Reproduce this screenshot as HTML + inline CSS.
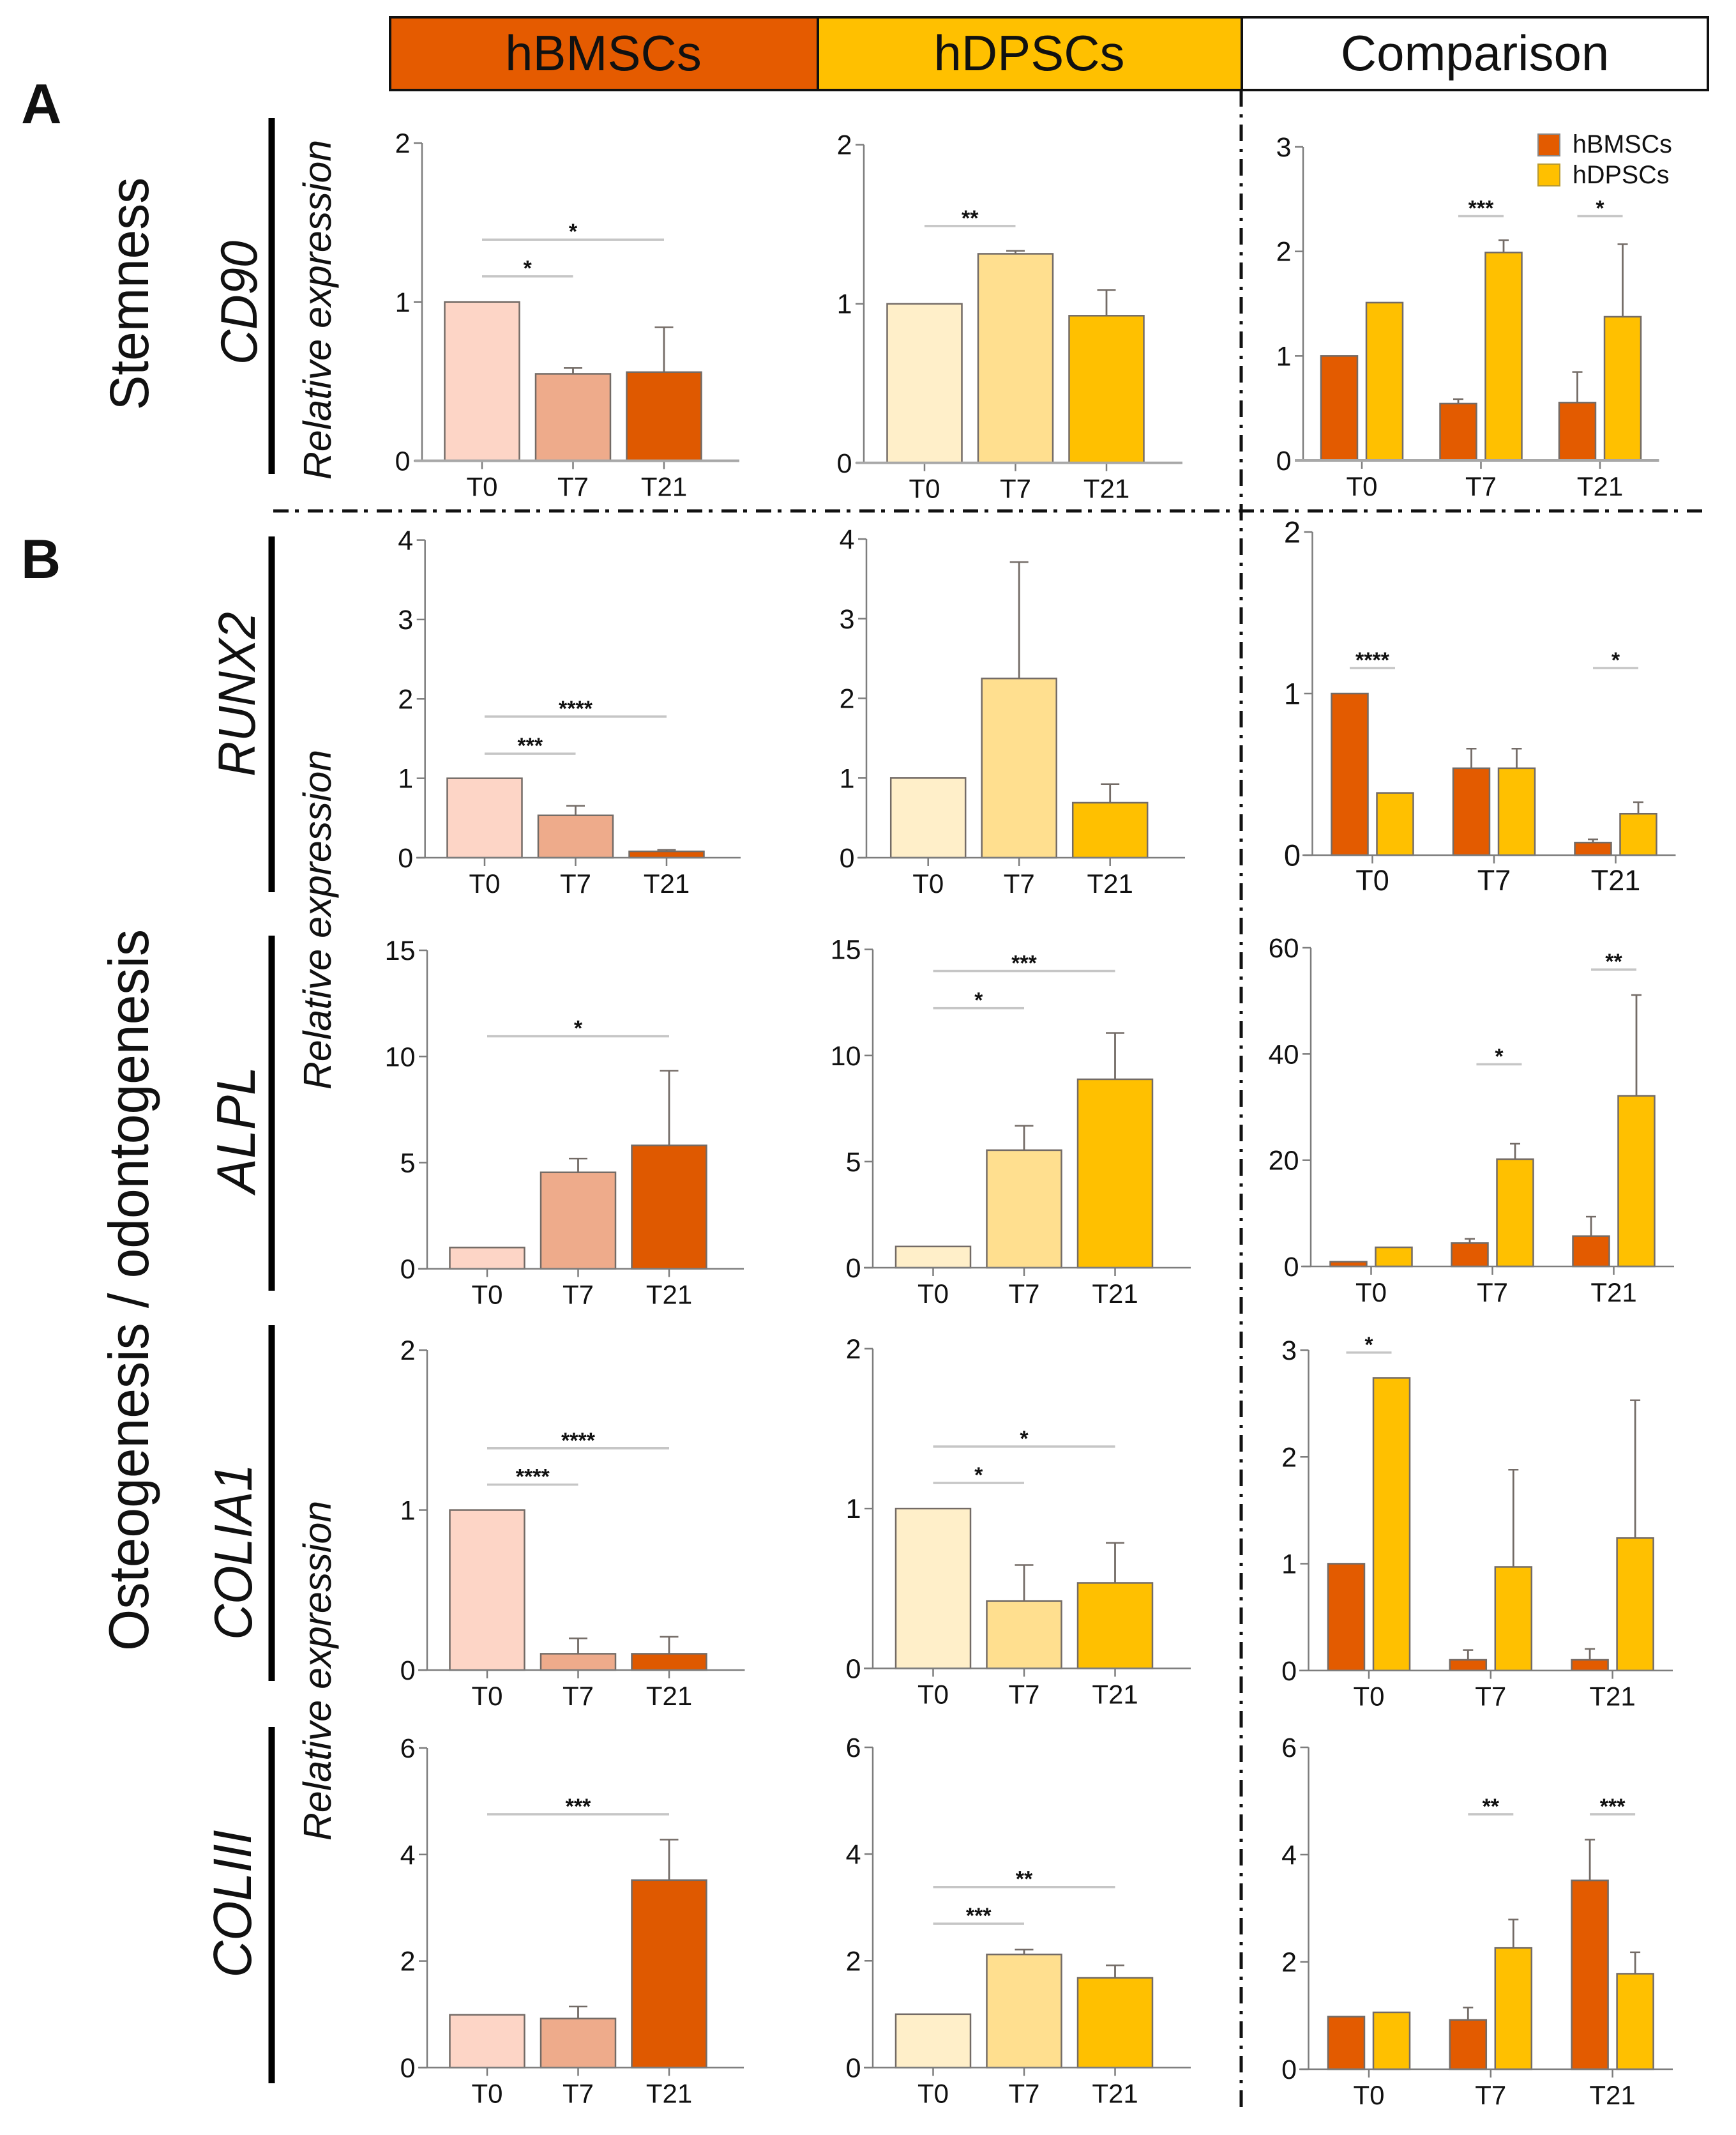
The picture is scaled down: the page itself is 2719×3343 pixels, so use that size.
<!DOCTYPE html>
<html lang="en">
<head>
<meta charset="utf-8">
<title>Gene expression comparison of hBMSCs and hDPSCs</title>
<style>
html,body{margin:0;padding:0;background:#fff}
svg{display:block}
text{font-family:"Liberation Sans",sans-serif;fill:#111}
</style>
</head>
<body>
<svg id="figure" xmlns="http://www.w3.org/2000/svg" width="2719" height="3343" viewBox="0 0 2719 3343">
  <rect x="0" y="0" width="2719" height="3343" fill="#fff"/>
  <g>
    <rect x="611" y="27" width="670" height="114" fill="#E55B00" stroke="#111" stroke-width="4"/>
    <rect x="1281" y="27" width="664" height="114" fill="#FFC000" stroke="#111" stroke-width="4"/>
    <rect x="1945" y="27" width="730" height="114" fill="#fff" stroke="#111" stroke-width="4"/>
    <text x="945" y="110" font-size="78" text-anchor="middle">hBMSCs</text>
    <text x="1612" y="110" font-size="78" text-anchor="middle">hDPSCs</text>
    <text x="2310" y="110" font-size="78" text-anchor="middle">Comparison</text>
  </g>
  <text x="33" y="193" font-size="88" font-weight="bold">A</text>
  <text x="33" y="905" font-size="86" font-weight="bold">B</text>
  <text transform="translate(232 460) rotate(-90) scale(1 1.05)" font-size="82" text-anchor="middle">Stemness</text>
  <text transform="translate(232 2020) rotate(-90) scale(1 1.05)" font-size="84" text-anchor="middle">Osteogenesis / odontogenesis</text>
  <g stroke="#000" stroke-width="10">
    <line x1="425.5" y1="185" x2="425.5" y2="742"/>
    <line x1="425.5" y1="840" x2="425.5" y2="1397"/>
    <line x1="425.5" y1="1465" x2="425.5" y2="2021"/>
    <line x1="425.5" y1="2075" x2="425.5" y2="2632"/>
    <line x1="425.5" y1="2704" x2="425.5" y2="3262"/>
  </g>
  <g font-style="italic">
    <text transform="translate(402 474) rotate(-90) scale(1 1.06)" font-size="76" text-anchor="middle" font-style="italic">CD90</text>
    <text transform="translate(399 1087) rotate(-90) scale(1 1.08)" font-size="76" text-anchor="middle" font-style="italic">RUNX2</text>
    <text transform="translate(399 1769) rotate(-90) scale(1 1.05)" font-size="81" text-anchor="middle" font-style="italic">ALPL</text>
    <text transform="translate(394 2430) rotate(-90) scale(1 1.08)" font-size="77.5" text-anchor="middle" font-style="italic">COLIA1</text>
    <text transform="translate(393 2981) rotate(-90) scale(1 1.06)" font-size="80" text-anchor="middle" font-style="italic">COLIII</text>
    <text transform="translate(518 485) rotate(-90)" font-size="61" text-anchor="middle" font-style="italic">Relative expression</text>
    <text transform="translate(518 1440) rotate(-90)" font-size="61" text-anchor="middle" font-style="italic">Relative expression</text>
    <text transform="translate(518 2616) rotate(-90)" font-size="61" text-anchor="middle" font-style="italic">Relative expression</text>
  </g>
  <g id="charts"></g>
  <g stroke="#111" stroke-width="5" fill="none">
    <line x1="428" y1="800" x2="2672" y2="800" stroke-dasharray="24 10 6 14"/>
    <line x1="1944" y1="141" x2="1944" y2="3299" stroke-dasharray="26 12 5 11"/>
  </g>
  <g>
    <rect x="2409" y="210" width="34" height="34" fill="#E35B00" stroke="#888" stroke-width="2"/>
    <text x="2463" y="239" font-size="39.5">hBMSCs</text>
    <rect x="2409" y="257" width="34" height="34" fill="#FFC000" stroke="#b89a30" stroke-width="2"/>
    <text x="2463" y="287" font-size="39.5">hDPSCs</text>
  </g>
</svg>
<script>
const categories = ['T0', 'T7', 'T21'];

const cd90Ticks = [0, 1, 2];
const cd90CompareTicks = [0, 1, 2, 3];
const cd90BmValues = [1, 0.547, 0.558];
const cd90BmErrors = [0, 0.037, 0.282];
const cd90DpValues = [1, 1.314, 0.925];
const cd90DpErrors = [0, 0.019, 0.161];
const cd90CmpBmValues = [1, 0.544, 0.554];
const cd90CmpBmErrors = [0, 0.043, 0.292];
const cd90CmpDpValues = [1.51, 1.99, 1.375];
const cd90CmpDpErrors = [0, 0.118, 0.694];
const cd90BmSig = [{ from: 0, to: 2, level: 1.392, label: '*' }, { from: 0, to: 1, level: 1.161, label: '*' }];
const cd90DpSig = [{ from: 0, to: 1, level: 1.489, label: '**' }];
const cd90CmpSig = [{ group: 1, level: 2.337, label: '***' }, { group: 2, level: 2.337, label: '*' }];

const runx2Ticks = [0, 1, 2, 3, 4];
const runx2CompareTicks = [0, 1, 2];
const runx2BmValues = [1, 0.533, 0.08];
const runx2BmErrors = [0, 0.12, 0.02];
const runx2DpValues = [1, 2.25, 0.69];
const runx2DpErrors = [0, 1.46, 0.234];
const runx2CmpBmValues = [1, 0.538, 0.078];
const runx2CmpBmErrors = [0, 0.121, 0.02];
const runx2CmpDpValues = [0.385, 0.538, 0.256];
const runx2CmpDpErrors = [0, 0.121, 0.072];
const runx2BmSig = [{ from: 0, to: 2, level: 1.777, label: '****' }, { from: 0, to: 1, level: 1.31, label: '***' }];
const runx2DpSig = [];
const runx2CmpSig = [{ group: 0, level: 1.158, label: '****' }, { group: 2, level: 1.158, label: '*' }];

const alplTicks = [0, 5, 10, 15];
const alplCompareTicks = [0, 20, 40, 60];
const alplBmValues = [1, 4.54, 5.81];
const alplBmErrors = [0, 0.65, 3.52];
const alplDpValues = [1, 5.54, 8.88];
const alplDpErrors = [0, 1.15, 2.18];
const alplCmpBmValues = [0.9, 4.4, 5.7];
const alplCmpBmErrors = [0, 0.8, 3.67];
const alplCmpDpValues = [3.6, 20.2, 32.1];
const alplCmpDpErrors = [0, 2.9, 19];
const alplBmSig = [{ from: 0, to: 2, level: 10.95, label: '*' }];
const alplDpSig = [{ from: 0, to: 2, level: 13.98, label: '***' }, { from: 0, to: 1, level: 12.23, label: '*' }];
const alplCmpSig = [{ group: 1.055, level: 38.05, label: '*' }, { group: 2, level: 55.9, label: '**' }];

const colia1Ticks = [0, 1, 2];
const colia1CompareTicks = [0, 1, 2, 3];
const colia1BmValues = [1, 0.102, 0.102];
const colia1BmErrors = [0, 0.096, 0.106];
const colia1DpValues = [1, 0.422, 0.535];
const colia1DpErrors = [0, 0.225, 0.25];
const colia1CmpBmValues = [1, 0.1, 0.1];
const colia1CmpBmErrors = [0, 0.092, 0.102];
const colia1CmpDpValues = [2.74, 0.97, 1.24];
const colia1CmpDpErrors = [0, 0.91, 1.29];
const colia1BmSig = [{ from: 0, to: 2, level: 1.386, label: '****' }, { from: 0, to: 1, level: 1.159, label: '****' }];
const colia1DpSig = [{ from: 0, to: 2, level: 1.388, label: '*' }, { from: 0, to: 1, level: 1.16, label: '*' }];
const colia1CmpSig = [{ group: 0, level: 2.977, label: '*' }];

const coliiiTicks = [0, 2, 4, 6];
const coliiiBmValues = [0.99, 0.92, 3.52];
const coliiiBmErrors = [0, 0.226, 0.76];
const coliiiDpValues = [1, 2.12, 1.68];
const coliiiDpErrors = [0, 0.09, 0.235];
const coliiiCmpBmValues = [0.98, 0.92, 3.52];
const coliiiCmpBmErrors = [0, 0.23, 0.76];
const coliiiCmpDpValues = [1.06, 2.26, 1.78];
const coliiiCmpDpErrors = [0, 0.53, 0.4];
const coliiiBmSig = [{ from: 0, to: 2, level: 4.755, label: '***' }];
const coliiiDpSig = [{ from: 0, to: 2, level: 3.383, label: '**' }, { from: 0, to: 1, level: 2.696, label: '***' }];
const coliiiCmpSig = [{ group: 1, level: 4.752, label: '**' }, { group: 2, level: 4.752, label: '***' }];

const bmShades = ['#FDD5C6', '#EEAB8B', '#DF5900'];
const dpShades = ['#FFEFC9', '#FFDF8F', '#FFC000'];
const compareFills = ['#E35B00', '#FFC000'];

const singlePanels = [
  { key: 'cd90-hbmscs', axisX: 661, yTop: 224, yBase: 721.5, xStart: 649, xEnd: 1158, firstCenter: 755, ticks: cd90Ticks, values: cd90BmValues, errors: cd90BmErrors, sig: cd90BmSig, shades: bmShades, heavy: true },
  { key: 'cd90-hdpscs', axisX: 1353, yTop: 226.6, yBase: 724.7, xStart: 1341, xEnd: 1852, firstCenter: 1448, ticks: cd90Ticks, values: cd90DpValues, errors: cd90DpErrors, sig: cd90DpSig, shades: dpShades, heavy: true },
  { key: 'runx2-hbmscs', axisX: 665.7, yTop: 845.6, yBase: 1343, xStart: 652, xEnd: 1160, firstCenter: 759, ticks: runx2Ticks, values: runx2BmValues, errors: runx2BmErrors, sig: runx2BmSig, shades: bmShades },
  { key: 'runx2-hdpscs', axisX: 1357, yTop: 844, yBase: 1343, xStart: 1343, xEnd: 1856, firstCenter: 1453.7, ticks: runx2Ticks, values: runx2DpValues, errors: runx2DpErrors, sig: runx2DpSig, shades: dpShades },
  { key: 'alpl-hbmscs', axisX: 669, yTop: 1488, yBase: 1986.6, xStart: 655, xEnd: 1165, firstCenter: 763, ticks: alplTicks, values: alplBmValues, errors: alplBmErrors, sig: alplBmSig, shades: bmShades },
  { key: 'alpl-hdpscs', axisX: 1367, yTop: 1486.6, yBase: 1985, xStart: 1353, xEnd: 1865, firstCenter: 1461.5, ticks: alplTicks, values: alplDpValues, errors: alplDpErrors, sig: alplDpSig, shades: dpShades },
  { key: 'colia1-hbmscs', axisX: 669, yTop: 2114, yBase: 2615, xStart: 655, xEnd: 1166.5, firstCenter: 763, ticks: colia1Ticks, values: colia1BmValues, errors: colia1BmErrors, sig: colia1BmSig, shades: bmShades },
  { key: 'colia1-hdpscs', axisX: 1367, yTop: 2111.8, yBase: 2612.4, xStart: 1353, xEnd: 1865, firstCenter: 1461.5, ticks: colia1Ticks, values: colia1DpValues, errors: colia1DpErrors, sig: colia1DpSig, shades: dpShades },
  { key: 'coliii-hbmscs', axisX: 669, yTop: 2737, yBase: 3237.4, xStart: 655, xEnd: 1165, firstCenter: 763, ticks: coliiiTicks, values: coliiiBmValues, errors: coliiiBmErrors, sig: coliiiBmSig, shades: bmShades },
  { key: 'coliii-hdpscs', axisX: 1367, yTop: 2736, yBase: 3237.4, xStart: 1353, xEnd: 1865, firstCenter: 1461.5, ticks: coliiiTicks, values: coliiiDpValues, errors: coliiiDpErrors, sig: coliiiDpSig, shades: dpShades }
];

const comparePanels = [
  { key: 'cd90-comparison', axisX: 2041, yTop: 230, yBase: 721, xStart: 2028, xEnd: 2598.5, firstCenter: 2133, step: 186.5, ticks: cd90CompareTicks, bm: cd90CmpBmValues, bmErr: cd90CmpBmErrors, dp: cd90CmpDpValues, dpErr: cd90CmpDpErrors, sig: cd90CmpSig, heavy: true },
  { key: 'runx2-comparison', axisX: 2055.5, yTop: 833, yBase: 1339, xStart: 2040, xEnd: 2624.5, firstCenter: 2149.5, step: 190.5, ticks: runx2CompareTicks, bm: runx2CmpBmValues, bmErr: runx2CmpBmErrors, dp: runx2CmpDpValues, dpErr: runx2CmpDpErrors, sig: runx2CmpSig, yFont: 47, xFont: 45 },
  { key: 'alpl-comparison', axisX: 2053, yTop: 1484, yBase: 1983, xStart: 2038, xEnd: 2622, firstCenter: 2147.5, step: 190, ticks: alplCompareTicks, bm: alplCmpBmValues, bmErr: alplCmpBmErrors, dp: alplCmpDpValues, dpErr: alplCmpDpErrors, sig: alplCmpSig },
  { key: 'colia1-comparison', axisX: 2049.5, yTop: 2114, yBase: 2615.7, xStart: 2035, xEnd: 2620, firstCenter: 2144, step: 190.8, ticks: colia1CompareTicks, bm: colia1CmpBmValues, bmErr: colia1CmpBmErrors, dp: colia1CmpDpValues, dpErr: colia1CmpDpErrors, sig: colia1CmpSig },
  { key: 'coliii-comparison', axisX: 2049.5, yTop: 2736, yBase: 3240, xStart: 2035, xEnd: 2620, firstCenter: 2144, step: 190.8, ticks: coliiiTicks, bm: coliiiCmpBmValues, bmErr: coliiiCmpBmErrors, dp: coliiiCmpDpValues, dpErr: coliiiCmpDpErrors, sig: coliiiCmpSig }
];

const SVG_NS = 'http://www.w3.org/2000/svg';
const chartsRoot = document.getElementById('charts');
const AXIS_COLOR = '#7d7d7d';
const MARK_STROKE = '#736b66';

function draw(tag, parent, attrs) {
  const node = document.createElementNS(SVG_NS, tag);
  for (const k in attrs) node.setAttribute(k, attrs[k]);
  parent.appendChild(node);
  return node;
}

function makeYScale(p) {
  const max = p.ticks[p.ticks.length - 1];
  return function (v) { return p.yBase - (v / max) * (p.yBase - p.yTop); };
}

function drawAxes(g, p, y, centers) {
  const yFont = p.yFont || 43;
  const xFont = p.xFont || 42;
  const yAxis = draw('line', g, { x1: p.axisX, y1: p.yTop, x2: p.axisX, y2: p.yBase, stroke: AXIS_COLOR, 'stroke-width': 2.5 });
  
  
  p.ticks.forEach(function (t) {
    const mark = draw('line', g, { x1: p.axisX - 13, y1: y(t), x2: p.axisX, y2: y(t), stroke: AXIS_COLOR, 'stroke-width': 2.5 });
    
    
    const lab = draw('text', g, { x: p.axisX - 18.5, y: y(t) + yFont * 0.35, 'font-size': yFont, 'text-anchor': 'end' });
    lab.textContent = String(t);
    
    
  });
  categories.forEach(function (c, i) {
    const mark = draw('line', g, { x1: centers[i], y1: p.yBase, x2: centers[i], y2: p.yBase + 13, stroke: AXIS_COLOR, 'stroke-width': 2.5 });
    
    
    const lab = draw('text', g, { x: centers[i], y: p.yBase + 55, 'font-size': xFont, 'text-anchor': 'middle' });
    lab.textContent = c;
    
    
  });
}

function drawBaseline(g, p) {
  const xAxis = draw('line', g, { x1: p.xStart, y1: p.yBase, x2: p.xEnd, y2: p.yBase, stroke: p.heavy ? '#a8a8a8' : AXIS_COLOR, 'stroke-width': p.heavy ? 4 : 2.5 });
  
  
}

function drawBar(g, name, cx, width, value, error, fill, y, p, capWidth) {
  if (error > 0) {
    const stem = draw('line', g, { x1: cx, y1: y(value), x2: cx, y2: y(value + error), stroke: MARK_STROKE, 'stroke-width': 2.8 });
    
    
    const cap = draw('line', g, { x1: cx - capWidth / 2, y1: y(value + error), x2: cx + capWidth / 2, y2: y(value + error), stroke: MARK_STROKE, 'stroke-width': 2.5 });
    
    
  }
  const bar = draw('rect', g, { x: cx - width / 2, y: y(value), width: width, height: p.yBase - y(value), fill: fill, stroke: MARK_STROKE, 'stroke-width': 2.5 });
  
  
}

function drawSig(g, name, x1, x2, yPos, label) {
  const rule = draw('line', g, { x1: x1, y1: yPos, x2: x2, y2: yPos, stroke: '#c6c6c6', 'stroke-width': 3.5 });
  
  
  const star = draw('text', g, { x: (x1 + x2) / 2, y: yPos - 1, 'font-size': 34, 'font-weight': 'bold', 'text-anchor': 'middle' });
  star.textContent = label;
  
  
}

singlePanels.forEach(function (p) {
  const g = draw('g', chartsRoot, {});
  
  
  const y = makeYScale(p);
  const centers = categories.map(function (c, i) { return p.firstCenter + i * 142.5; });
  drawAxes(g, p, y, centers);
  categories.forEach(function (c, i) {
    drawBar(g, p.key + '-bar-' + c, centers[i], 117, p.values[i], p.errors[i], p.shades[i], y, p, 29);
  });
  drawBaseline(g, p);
  p.sig.forEach(function (s, i) {
    drawSig(g, p.key + '-significance-' + i, centers[s.from], centers[s.to], y(s.level), s.label);
  });
});

comparePanels.forEach(function (p) {
  const g = draw('g', chartsRoot, {});
  
  
  const y = makeYScale(p);
  const centers = categories.map(function (c, i) { return p.firstCenter + i * p.step; });
  drawAxes(g, p, y, centers);
  categories.forEach(function (c, i) {
    drawBar(g, p.key + '-hbmscs-bar-' + c, centers[i] - 35.5, 57, p.bm[i], p.bmErr[i], compareFills[0], y, p, 16);
    drawBar(g, p.key + '-hdpscs-bar-' + c, centers[i] + 35.5, 57, p.dp[i], p.dpErr[i], compareFills[1], y, p, 16);
  });
  drawBaseline(g, p);
  p.sig.forEach(function (s, i) {
    const mid = p.firstCenter + s.group * p.step;
    drawSig(g, p.key + '-significance-' + i, mid - 35.5, mid + 35.5, y(s.level), s.label);
  });
});
</script>
</body>
</html>
